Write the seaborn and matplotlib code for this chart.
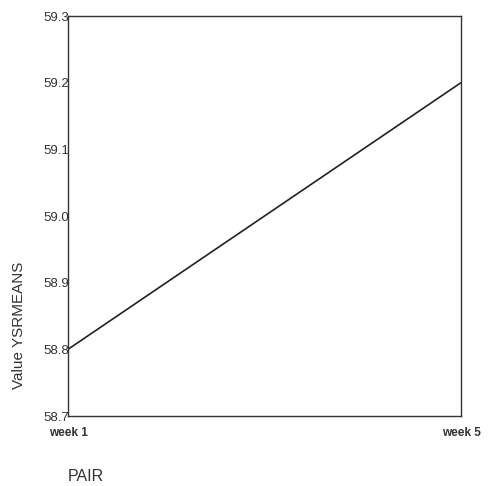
import matplotlib
matplotlib.use("Agg")
import matplotlib.pyplot as plt
import seaborn as sns
import pandas as pd

weeks = ["week 1", "week 5"]
values = [58.8, 59.2]
yticks = [58.7, 58.8, 58.9, 59.0, 59.1, 59.2, 59.3]

sns.set_style("white")
plt.rcParams['font.family'] = ['Liberation Sans', 'DejaVu Sans']

df = pd.DataFrame({"PAIR": weeks, "Value YSRMEANS": values})

fig = plt.figure(figsize=(4.88, 4.86), dpi=100)
ax = fig.add_axes([68/488, 1 - 416/486, (461-68)/488, (416-16)/486])
sns.lineplot(data=df, x="PAIR", y="Value YSRMEANS", ax=ax, color="#222222", linewidth=1.2)

ax.set_xlim(0, 1)
ax.set_ylim(58.7, 59.3)
ax.set_yticks(yticks)
ax.set_yticklabels([f"{v:.1f}" for v in yticks])
ax.set_xticks([0, 1])
ax.set_xticklabels(weeks)
ax.tick_params(axis="y", length=2, direction="in", pad=-1, labelsize=9.5, colors="#333333")
ax.tick_params(axis="x", length=2, direction="out", pad=6, labelsize=8.5, colors="#333333")
for lbl in ax.get_xticklabels():
    lbl.set_fontweight("bold")
for s in ax.spines.values():
    s.set_color("#333333")
    s.set_linewidth(1.0)
ax.set_xlabel("")
ax.set_ylabel("")
fig.text(19/488, 1 - 325/486, "Value YSRMEANS", rotation=90, ha="center", va="center",
         fontsize=11, color="#333333")
fig.text(86/488, 1 - 476/486, "PAIR", ha="center", va="center", fontsize=11.5, color="#333333")

fig.savefig("out.png", dpi=100, facecolor="white")
